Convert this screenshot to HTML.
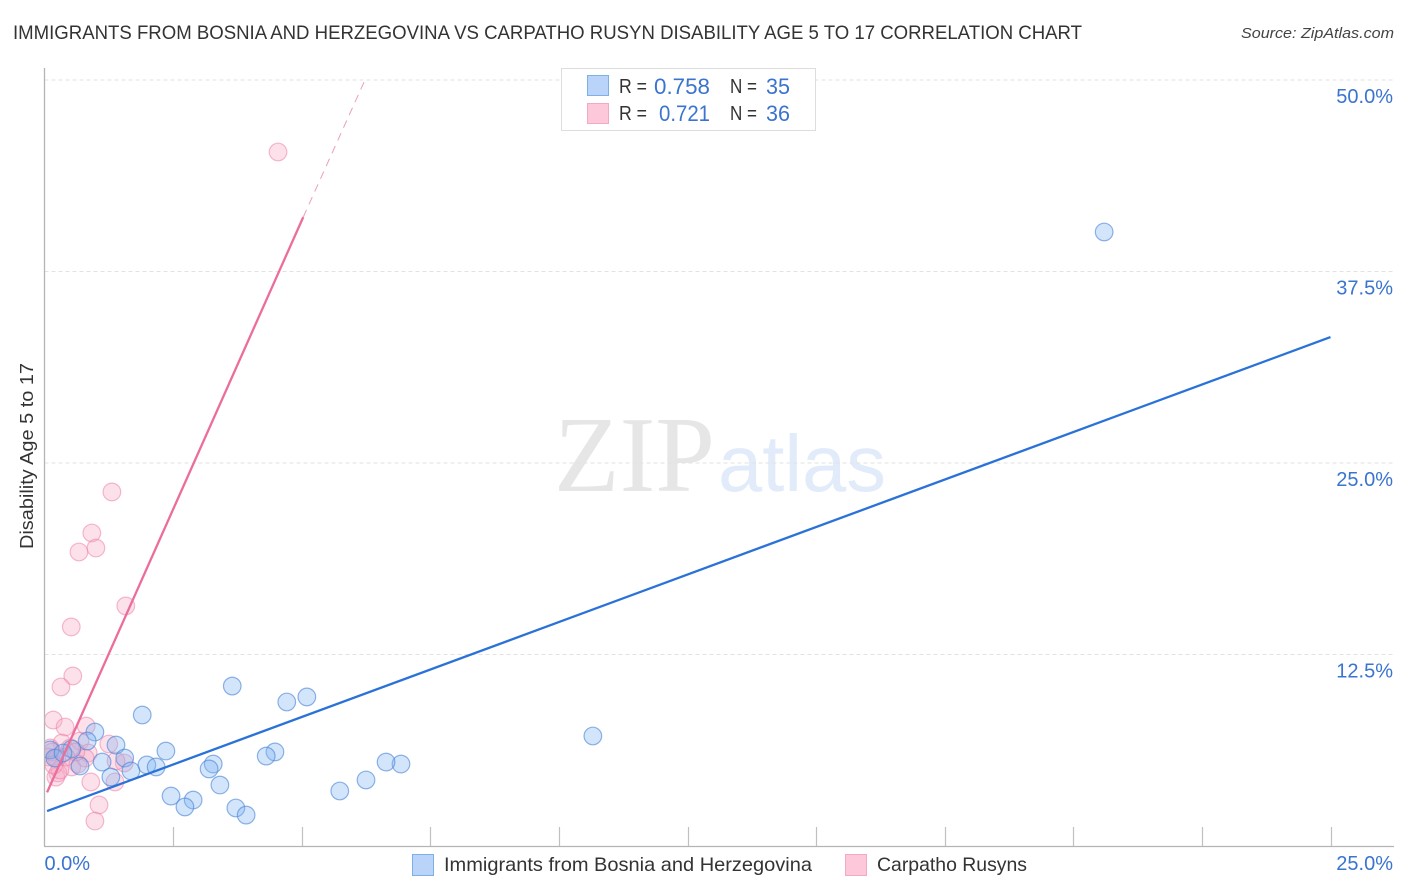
<!DOCTYPE html>
<html lang="en">
<head>
<meta charset="utf-8">
<title>Immigrants from Bosnia and Herzegovina vs Carpatho Rusyn Disability Age 5 to 17 Correlation Chart</title>
<style>
html,body{margin:0;padding:0;background:#fff;width:1406px;height:892px;overflow:hidden}
svg{display:block;font-family:"Liberation Sans",sans-serif}
</style>
</head>
<body>
<svg id="chart" width="1406" height="892" viewBox="0 0 1406 892" xmlns="http://www.w3.org/2000/svg">
  <defs>
    <clipPath id="plot-clip"><rect x="45" y="60" width="1349" height="786"/></clipPath>
  </defs>
  <rect x="0" y="0" width="1406" height="892" fill="#ffffff"/>
  <text x="13" y="39" font-size="19.5" fill="#333333" textLength="1069" lengthAdjust="spacingAndGlyphs">IMMIGRANTS FROM BOSNIA AND HERZEGOVINA VS CARPATHO RUSYN DISABILITY AGE 5 TO 17 CORRELATION CHART</text>
  <text x="1394" y="38" font-size="15" font-style="italic" fill="#444444" text-anchor="end" textLength="153" lengthAdjust="spacingAndGlyphs">Source: ZipAtlas.com</text>
  <g>
    <text x="554" y="491" font-family="'Liberation Serif',serif" font-size="108" fill="#e6e6e6" textLength="161" lengthAdjust="spacingAndGlyphs">ZIP</text>
    <text x="718" y="491" font-size="80" fill="#e2ebf9" textLength="168" lengthAdjust="spacingAndGlyphs">atlas</text>
  </g>
  <g id="grid"></g>
  <g id="marks" clip-path="url(#plot-clip)"></g>
  <g id="axes"></g>
  <g id="trends"></g>
  <text transform="translate(33,456) rotate(-90)" font-size="18.5" fill="#333333" text-anchor="middle" textLength="186" lengthAdjust="spacingAndGlyphs">Disability Age 5 to 17</text>

  <g>
    <rect x="561.5" y="68.5" width="254" height="62" fill="#ffffff" stroke="#dddddd" stroke-width="1"/>
    <rect x="587.5" y="75.5" width="21" height="20" fill="#b9d4f8" stroke="#7eb0e8" stroke-width="1"/>
    <rect x="587.5" y="103.5" width="21" height="20" fill="#fcc8da" stroke="#f3a9c2" stroke-width="1"/>
    <text x="619" y="93" font-size="20" fill="#333333" textLength="28" lengthAdjust="spacingAndGlyphs">R =</text>
    <text x="654" y="94" font-size="22" fill="#3a74cf" textLength="56" lengthAdjust="spacingAndGlyphs">0.758</text>
    <text x="730" y="93" font-size="20" fill="#333333" textLength="27" lengthAdjust="spacingAndGlyphs">N =</text>
    <text x="766" y="94" font-size="22" fill="#3a74cf" textLength="24" lengthAdjust="spacingAndGlyphs">35</text>
    <text x="619" y="120" font-size="20" fill="#333333" textLength="28" lengthAdjust="spacingAndGlyphs">R =</text>
    <text x="659" y="121" font-size="22" fill="#3a74cf" textLength="51" lengthAdjust="spacingAndGlyphs">0.721</text>
    <text x="730" y="120" font-size="20" fill="#333333" textLength="27" lengthAdjust="spacingAndGlyphs">N =</text>
    <text x="766" y="121" font-size="22" fill="#3a74cf" textLength="24" lengthAdjust="spacingAndGlyphs">36</text>
  </g>

  <g>
    <rect x="412.5" y="854.5" width="21" height="21" fill="#b9d4f8" stroke="#7eb0e8" stroke-width="1"/>
    <text x="444" y="871" font-size="19.5" fill="#333333" textLength="368" lengthAdjust="spacingAndGlyphs">Immigrants from Bosnia and Herzegovina</text>
    <rect x="845.5" y="854.5" width="21" height="21" fill="#fcc8da" stroke="#f3a9c2" stroke-width="1"/>
    <text x="877" y="871" font-size="19.5" fill="#333333" textLength="150" lengthAdjust="spacingAndGlyphs">Carpatho Rusyns</text>
  </g>
</svg>
<script>
const NS = 'http://www.w3.org/2000/svg';

const xTickValues = [0, 2.5, 5, 7.5, 10, 12.5, 15, 17.5, 20, 22.5, 25];
const xTickLabels = ['0.0%', '25.0%'];
const xLabelValues = [0, 25];
const yTickValues = [12.5, 25, 37.5, 50];
const yTickLabels = ['12.5%', '25.0%', '37.5%', '50.0%'];

const bosniaX = [20.60,10.66,3.65,5.10,4.71,1.90,0.98,0.83,1.39,2.36,4.48,4.31,1.56,1.12,1.99,2.17,3.28,3.20,1.68,1.29,6.93,6.64,6.25,5.74,3.41,2.46,2.89,2.73,3.72,3.92,0.69,0.53,0.11,0.20,0.36];
const bosniaY = [40.08,7.18,10.44,9.73,9.40,8.55,7.44,6.85,6.59,6.20,6.14,5.87,5.74,5.48,5.29,5.16,5.35,5.03,4.90,4.50,5.35,5.48,4.31,3.59,3.98,3.26,3.00,2.55,2.48,2.02,5.22,6.33,6.27,5.74,6.07];

const carpathoX = [4.54,1.31,0.92,1.00,0.67,1.58,0.52,0.55,0.32,0.17,0.40,0.81,0.34,0.69,1.25,0.85,1.55,1.37,0.90,1.06,0.98,0.53,0.79,0.11,0.15,0.07,0.26,0.22,0.30,0.50,0.42,0.65,0.24,1.39,0.61,0.18];
const carpathoY = [45.30,23.11,20.43,19.45,19.19,15.67,14.30,11.10,10.38,8.22,7.77,7.83,6.72,6.85,6.66,6.07,5.42,4.18,4.18,2.68,1.63,5.16,5.74,6.40,6.14,5.81,4.77,4.50,4.96,6.40,5.81,5.35,5.74,5.55,6.14,5.29];

const bosniaTrendX = [0.05, 25];
const bosniaTrendY = [2.28, 33.22];
const carpathoTrendX = [0.05, 5.03];
const carpathoTrendY = [3.5, 41.05];
const carpathoDashX = [5.03, 6.23];
const carpathoDashY = [41.05, 50];

function xScale(v) { return 44.5 + v * 51.44; }
function yScale(v) { return 846 - v * 15.32; }

function make(tag, attrs, parent) {
  const el = document.createElementNS(NS, tag);
  for (const k in attrs) el.setAttribute(k, attrs[k]);
  parent.appendChild(el);
  return el;
}

const gridG = document.getElementById('grid');
const axesG = document.getElementById('axes');
const marksG = document.getElementById('marks');
const trendsG = document.getElementById('trends');

yTickValues.forEach(function (v, i) {
  const line = make('line', {x1: 44.5, x2: 1394, y1: yScale(v), y2: yScale(v), stroke: '#e2e2e2', 'stroke-width': 1, 'stroke-dasharray': '4 3'}, gridG);
  
  
  const label = make('text', {x: 1393, y: yScale(v) + 23, 'font-size': 20, fill: '#3a74cf', 'text-anchor': 'end'}, axesG);
  
  
  label.textContent = yTickLabels[i];
});

const yAxis = make('line', {x1: 44.5, x2: 44.5, y1: 68, y2: 846.5, stroke: '#b4b4b4', 'stroke-width': 1.3}, axesG);


const xAxis = make('line', {x1: 44, x2: 1394, y1: 846.5, y2: 846.5, stroke: '#b4b4b4', 'stroke-width': 1.3}, axesG);



xTickValues.forEach(function (v) {
  if (v === 0) return;
  const tick = make('line', {x1: Math.round(xScale(v)) + 0.5, x2: Math.round(xScale(v)) + 0.5, y1: 827, y2: 846, stroke: '#c0c0c0', 'stroke-width': 1.2}, axesG);
  
  
});

xLabelValues.forEach(function (v, i) {
  const isLast = i === xLabelValues.length - 1;
  const label = make('text', {x: isLast ? 1393 : xScale(v), y: 870, 'font-size': 20, fill: '#3a74cf', 'text-anchor': isLast ? 'end' : 'start'}, axesG);
  
  
  label.textContent = xTickLabels[i];
});

carpathoX.forEach(function (v, i) {
  const dot = make('circle', {cx: xScale(v), cy: yScale(carpathoY[i]), r: 8.8, fill: 'rgba(247,170,198,0.35)', stroke: 'rgba(236,130,170,0.55)', 'stroke-width': 1.2}, marksG);
  
  
});

bosniaX.forEach(function (v, i) {
  const dot = make('circle', {cx: xScale(v), cy: yScale(bosniaY[i]), r: 8.8, fill: 'rgba(130,180,240,0.35)', stroke: 'rgba(70,130,215,0.6)', 'stroke-width': 1.2}, marksG);
  
  
});

const blueTrend = make('line', {x1: xScale(bosniaTrendX[0]), y1: yScale(bosniaTrendY[0]), x2: xScale(bosniaTrendX[1]), y2: yScale(bosniaTrendY[1]), stroke: '#2a72d8', 'stroke-width': 2.3}, trendsG);



const pinkTrend = make('line', {x1: xScale(carpathoTrendX[0]), y1: yScale(carpathoTrendY[0]), x2: xScale(carpathoTrendX[1]), y2: yScale(carpathoTrendY[1]), stroke: '#ec6d9c', 'stroke-width': 2.3}, trendsG);



const pinkDash = make('line', {x1: xScale(carpathoDashX[0]), y1: yScale(carpathoDashY[0]), x2: xScale(carpathoDashX[1]), y2: yScale(carpathoDashY[1]), stroke: '#ec9dbb', 'stroke-width': 1, 'stroke-dasharray': '8 6'}, trendsG);


</script>
</body>
</html>
